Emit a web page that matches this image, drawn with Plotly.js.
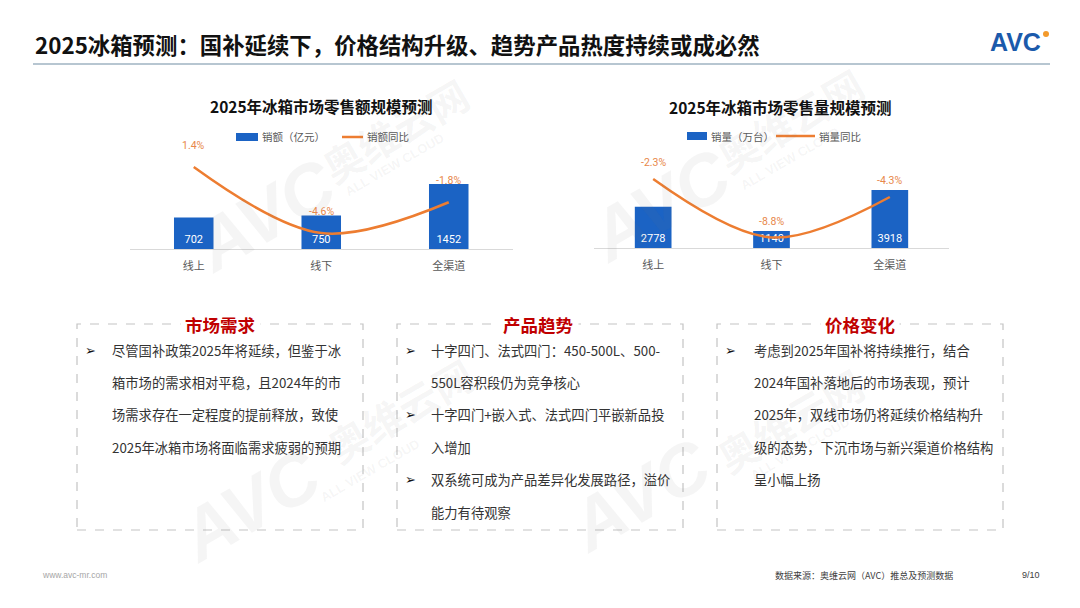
<!DOCTYPE html>
<html>
<head>
<meta charset="utf-8">
<script src="https://cdn.plot.ly/plotly-3.0.1.min.js"></script>
<style>
  html, body { margin: 0; padding: 0; background: #ffffff; }
  #chart { width: 1080px; height: 608px; }
</style>
</head>
<body>
<div id="chart"></div>
<script>
// ---------- data ----------
const categories = ['线上', '线下', '全渠道'];
const salesValue = [702, 750, 1452];          // 销额（亿元）
const salesValueYoY = [1.4, -4.6, -1.8];      // 销额同比 (%)
const salesVolume = [2778, 1140, 3918];       // 销量（万台）
const salesVolumeYoY = [-2.3, -8.8, -4.3];    // 销量同比 (%)

const seriesNames = ['销额（亿元）', '销额同比', '销量（万台）', '销量同比'];
const chartTitles = ['2025年冰箱市场零售额规模预测', '2025年冰箱市场零售量规模预测'];
const pageTitle = '2025冰箱预测：国补延续下，价格结构升级、趋势产品热度持续或成必然';

const boxTitles = ['市场需求', '产品趋势', '价格变化'];
const box1Lines = ['尽管国补政策2025年将延续，但鉴于冰', '箱市场的需求相对平稳，且2024年的市', '场需求存在一定程度的提前释放，致使', '2025年冰箱市场将面临需求疲弱的预期'];
const box1Bullets = [true, false, false, false];
const box2Lines = ['十字四门、法式四门：450-500L、500-', '550L容积段仍为竞争核心', '十字四门+嵌入式、法式四门平嵌新品投', '入增加', '双系统可成为产品差异化发展路径，溢价', '能力有待观察'];
const box2Bullets = [true, false, true, false, true, false];
const box3Lines = ['考虑到2025年国补将持续推行，结合', '2024年国补落地后的市场表现，预计', '2025年，双线市场仍将延续价格结构升', '级的态势，下沉市场与新兴渠道价格结构', '呈小幅上扬'];
const box3Bullets = [true, false, false, false, false];

const footerLeft = 'www.avc-mr.com';
const footerSource = '数据来源：奥维云网（AVC）推总及预测数据';
const footerPage = '9/10';

// ---------- helpers ----------
const W = 1080, H = 608;
const px = x => x / W;
const py = y => 1 - y / H;
const CJK = '"Noto Sans CJK SC", "Noto Sans", sans-serif';
const BLUE = '#1B63C4';
const ORANGE = '#ED7D31';
const pct = v => v.toFixed(1) + '%';

// ---------- traces ----------
const traces = [
  {
    type: 'bar', name: seriesNames[0], x: categories, y: salesValue,
    xaxis: 'x', yaxis: 'y', width: 0.31,
    marker: { color: BLUE },
    text: salesValue.map(String), textposition: 'inside', insidetextanchor: 'start',
    textangle: 0, constraintext: 'none',
    textfont: { family: 'Roboto, "Noto Sans", sans-serif', size: 11, color: '#ffffff' },
    hoverinfo: 'skip'
  },
  {
    type: 'scatter', mode: 'lines', name: seriesNames[1], x: categories, y: salesValueYoY,
    xaxis: 'x', yaxis: 'y2',
    line: { color: ORANGE, width: 2.5, shape: 'spline', smoothing: 1 },
    hoverinfo: 'skip'
  },
  {
    type: 'bar', name: seriesNames[2], x: categories, y: salesVolume,
    xaxis: 'x2', yaxis: 'y3', width: 0.31,
    marker: { color: BLUE },
    text: salesVolume.map(String), textposition: 'inside', insidetextanchor: 'start',
    textangle: 0, constraintext: 'none',
    textfont: { family: 'Roboto, "Noto Sans", sans-serif', size: 11, color: '#ffffff' },
    hoverinfo: 'skip'
  },
  {
    type: 'scatter', mode: 'lines', name: seriesNames[3], x: categories, y: salesVolumeYoY,
    xaxis: 'x2', yaxis: 'y4',
    line: { color: ORANGE, width: 2.5, shape: 'spline', smoothing: 1 },
    hoverinfo: 'skip'
  }
];

// ---------- annotations ----------
const ann = [];
const addText = (text, x, y, opts) => ann.push(Object.assign({
  text, x: px(x), y: py(y), xref: 'paper', yref: 'paper', showarrow: false,
  xanchor: 'center', yanchor: 'middle'
}, opts || {}));

// watermarks (faint)
const wm = 'rgba(120,120,120,0.07)';
[[265, 215, 395, 130, 395, 165], [660, 205, 790, 120, 790, 158], [250, 505, 400, 410, 370, 470], [640, 495, 790, 420, 800, 448]].forEach(g => {
  addText('<b><i>AVC</i></b>', g[0], g[1], { textangle: -30, font: { family: 'Liberation Sans, Arial', size: 72, color: wm } });
  addText('<b>奥维云网</b>', g[2], g[3], { textangle: -30, font: { family: CJK, size: 40, color: wm } });
  addText('<b>ALL VIEW CLOUD</b>', g[4], g[5], { textangle: -30, font: { family: 'Liberation Sans, Arial', size: 13, color: wm } });
});

// page title
addText('<b>' + pageTitle + '</b>', 33, 44, { xanchor: 'left', font: { family: CJK, size: 22.4, color: '#111111' } });
// logo
addText('<b>AVC</b>', 1015, 42, { font: { family: 'Liberation Sans, Arial', size: 25, color: '#1B5AAB' } });

// chart titles
addText('<b>' + chartTitles[0] + '</b>', 321, 106, { font: { family: CJK, size: 15.5, color: '#111111' } });
addText('<b>' + chartTitles[1] + '</b>', 780, 107, { font: { family: CJK, size: 15.5, color: '#111111' } });

// legends (text)
const legFont = { family: CJK, size: 10.5, color: '#595959' };
addText(seriesNames[0], 260, 137, { xanchor: 'left', font: legFont });
addText(seriesNames[1], 365, 137, { xanchor: 'left', font: legFont });
addText(seriesNames[2], 709, 136, { xanchor: 'left', font: legFont });
addText(seriesNames[3], 817, 136, { xanchor: 'left', font: legFont });

// percentage labels on lines
const pctFont = { family: 'Roboto, "Noto Sans", sans-serif', size: 10.5, color: '#E8874A' };
categories.forEach((c, i) => {
  ann.push({ text: pct(salesValueYoY[i]), x: c, y: salesValueYoY[i], xref: 'x', yref: 'y2',
    showarrow: false, yshift: 22, font: pctFont });
  ann.push({ text: pct(salesVolumeYoY[i]), x: c, y: salesVolumeYoY[i], xref: 'x2', yref: 'y4',
    showarrow: false, yshift: 16, font: pctFont });
});

// text boxes
const boxes = [
  { left: 77, titleX: 220, lines: box1Lines, bullets: box1Bullets, bulletX: 90, textX: 110 },
  { left: 397, titleX: 538, lines: box2Lines, bullets: box2Bullets, bulletX: 410, textX: 429 },
  { left: 717, titleX: 860, lines: box3Lines, bullets: box3Bullets, bulletX: 730, textX: 752 }
];
const boxW = 286, boxTop = 324, boxBottom = 530;
const shapes = [];
boxes.forEach((b, k) => {
  shapes.push({ type: 'rect', xref: 'paper', yref: 'paper', x0: px(b.left), x1: px(b.left + boxW),
    y0: py(boxBottom), y1: py(boxTop), line: { color: '#C4C4C4', width: 1.2, dash: 'dash' }, fillcolor: 'rgba(0,0,0,0)' });
  addText('<b>' + boxTitles[k] + '</b>', b.titleX, boxTop, { bgcolor: '#ffffff', borderpad: 4,
    font: { family: CJK, size: 17.5, color: '#C00000' } });
  b.lines.forEach((line, i) => {
    const y = 350 + i * 32.4;
    if (b.bullets[i]) addText('➢', b.bulletX, y, { font: { family: 'DejaVu Sans', size: 13, color: '#111111' } });
    addText(line, b.textX, y, { xanchor: 'left', font: { family: CJK, size: 13.3, color: '#333333' } });
  });
});

// footer
addText(footerLeft, 40, 575, { xanchor: 'left', font: { family: 'Liberation Sans, Arial', size: 8.5, color: '#A6A6A6' } });
addText(footerSource, 773, 575, { xanchor: 'left', font: { family: CJK, size: 9, color: '#404040' } });
addText(footerPage, 1031, 575, { font: { family: 'Liberation Sans, Arial', size: 9, color: '#404040' } });

// ---------- shapes ----------
shapes.push({ type: 'line', xref: 'paper', yref: 'paper', x0: px(33), x1: px(1050), y0: py(64), y1: py(64),
  line: { color: '#9FB3C2', width: 1.5 } });
shapes.push({ type: 'circle', xref: 'paper', yref: 'paper', x0: px(1043), x1: px(1049), y0: py(37), y1: py(31),
  fillcolor: '#F39A2B', line: { width: 0 } });
// legend keys
shapes.push({ type: 'rect', xref: 'paper', yref: 'paper', x0: px(236), x1: px(258), y0: py(141), y1: py(133),
  fillcolor: BLUE, line: { width: 0 } });
shapes.push({ type: 'line', xref: 'paper', yref: 'paper', x0: px(342), x1: px(363), y0: py(137), y1: py(137),
  line: { color: ORANGE, width: 2.5 } });
shapes.push({ type: 'rect', xref: 'paper', yref: 'paper', x0: px(687), x1: px(707), y0: py(140), y1: py(132),
  fillcolor: BLUE, line: { width: 0 } });
shapes.push({ type: 'line', xref: 'paper', yref: 'paper', x0: px(776), x1: px(815), y0: py(136), y1: py(136),
  line: { color: ORANGE, width: 2.5 } });

// ---------- layout ----------
const catAxis = (domain, anchor) => ({
  domain, anchor, type: 'category', range: [-0.5, 2.5],
  showline: true, linecolor: '#D9D9D9', linewidth: 1, showgrid: false, zeroline: false,
  ticks: '', ticklabelstandoff: 7, fixedrange: true,
  tickfont: { family: CJK, size: 11, color: '#595959' }
});
const hidden = o => Object.assign({ visible: false, showgrid: false, zeroline: false, fixedrange: true }, o);

const layout = {
  width: W, height: H,
  margin: { l: 0, r: 0, t: 0, b: 0 },
  paper_bgcolor: '#ffffff', plot_bgcolor: 'rgba(0,0,0,0)',
  showlegend: false,
  xaxis: catAxis([px(130), px(512.5)], 'y'),
  yaxis: hidden({ domain: [py(249), py(150)], range: [0, 2212], anchor: 'x' }),
  yaxis2: hidden({ overlaying: 'y', range: [-6.05, 2.95], anchor: 'x' }),
  xaxis2: catAxis([px(594), px(949)], 'y3'),
  yaxis3: hidden({ domain: [py(248), py(150)], range: [0, 6615], anchor: 'x2' }),
  yaxis4: hidden({ overlaying: 'y3', range: [-9.97, 0.92], anchor: 'x2' }),
  annotations: ann,
  shapes
};

Plotly.newPlot('chart', traces, layout, { staticPlot: true, displayModeBar: false });
</script>
</body>
</html>
